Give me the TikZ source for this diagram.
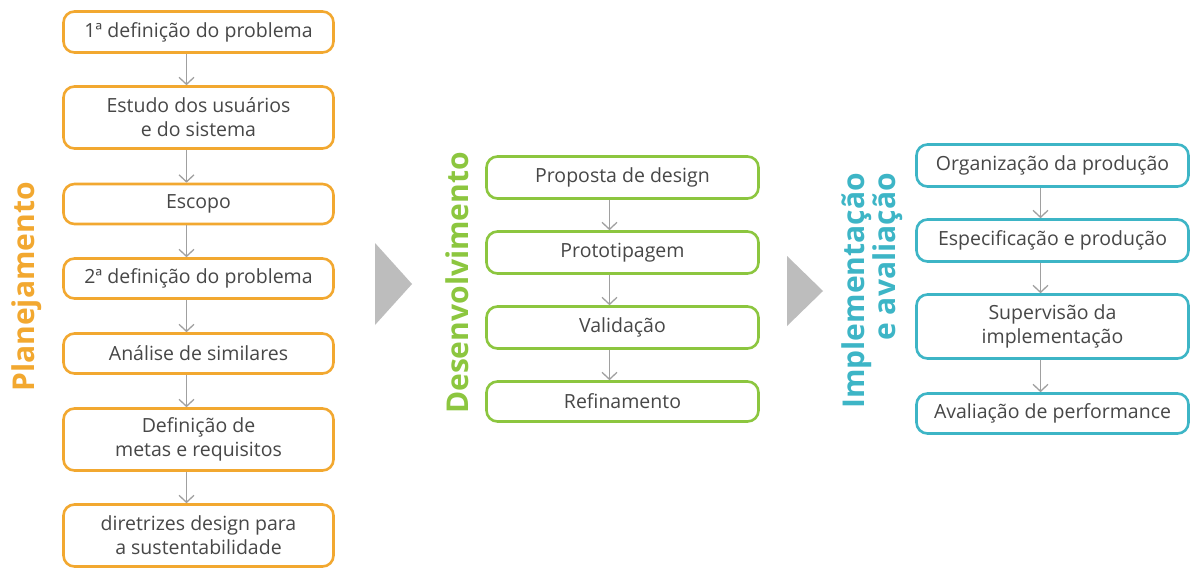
\documentclass[tikz,border=0pt]{standalone}
\usepackage{fontspec}
\setmainfont{Open Sans}
\usetikzlibrary{arrows.meta}
\definecolor{plan}{HTML}{F2A830}
\definecolor{dev}{HTML}{8CC63F}
\definecolor{impl}{HTML}{3DB5C6}
\definecolor{txt}{HTML}{474747}
\definecolor{arr}{HTML}{A0A0A0}
\definecolor{tri}{HTML}{BDBDBD}
\tikzset{
  box/.style={draw, line width=2.6pt, rounded corners=11pt, fill=white,
    inner sep=0pt, align=center, text=txt, font=\fontsize{19.5}{24}\selectfont},
  pbox/.style={box, draw=plan, minimum width=270pt},
  dbox/.style={box, draw=dev, minimum width=272pt},
  ibox/.style={box, draw=impl, minimum width=272pt},
  flow/.style={draw=arr, line width=1.3pt, -{Straight Barb[length=7pt,width=15pt,line width=1.3pt]}},
  phase/.style={rotate=90, inner sep=0pt, font=\fontsize{30}{29}\selectfont\bfseries},
}
\begin{document}
\begin{tikzpicture}[x=1pt,y=-1pt]
\useasboundingbox[fill=white] (0,0) rectangle (1193,570);
% Planejamento column
\node[pbox, minimum height=41pt] (p1) at (198.5,32) {1ª definição do problema};
\node[pbox, minimum height=62pt] (p2) at (198.5,117.5) {Estudo dos usuários\\e do sistema};
\node[pbox, minimum height=40pt] (p3) at (198.5,204) {Escopo};
\node[pbox, minimum height=40pt] (p4) at (198.5,278.5) {2ª definição do problema};
\node[pbox, minimum height=40pt] (p5) at (198.5,353.5) {Análise de similares};
\node[pbox, minimum height=62pt] (p6) at (198.5,439.5) {Definição de\\metas e requisitos};
\node[pbox, minimum height=62pt] (p7) at (198.5,535.5) {diretrizes design para\\a sustentabilidade};
\foreach \a/\b in {p1/p2,p2/p3,p3/p4,p4/p5,p5/p6,p6/p7}
  \draw[flow] ([xshift=-12pt]\a.south) -- ([xshift=-12pt]\b.north);
\node[phase, text=plan] (lp) at (27,287) {Planejamento};
% triangle 1
\fill[tri] (375,243) -- (412,284) -- (375,325) -- cycle;
% Desenvolvimento column
\node[dbox, minimum height=42pt] (d1) at (622.5,177.5) {Proposta de design};
\node[dbox, minimum height=42pt] (d2) at (622.5,252.5) {Prototipagem};
\node[dbox, minimum height=42pt] (d3) at (622.5,327.5) {Validação};
\node[dbox, minimum height=40pt] (d4) at (622.5,401.5) {Refinamento};
\foreach \a/\b in {d1/d2,d2/d3,d3/d4}
  \draw[flow] ([xshift=-13pt]\a.south) -- ([xshift=-13pt]\b.north);
\node[phase, text=dev] (ld) at (457,283) {Desenvolvimento};
% triangle 2
\fill[tri] (787,256) -- (823,291) -- (787,326) -- cycle;
% Implementacao column
\node[ibox, minimum height=42pt] (i1) at (1052.5,165.5) {Organização da produção};
\node[ibox, minimum height=42pt] (i2) at (1052.5,240.5) {Especificação e produção};
\node[ibox, minimum height=64pt] (i3) at (1052.5,326.5) {Supervisão da\\implementação};
\node[ibox, minimum height=40pt] (i4) at (1052.5,413.5) {Avaliação de performance};
\foreach \a/\b in {i1/i2,i2/i3,i3/i4}
  \draw[flow] ([xshift=-12pt]\a.south) -- ([xshift=-12pt]\b.north);
\node[phase, text=impl, align=right, anchor=east] (li) at (872,173) {Implementação\\e avaliação};
\end{tikzpicture}
\end{document}
